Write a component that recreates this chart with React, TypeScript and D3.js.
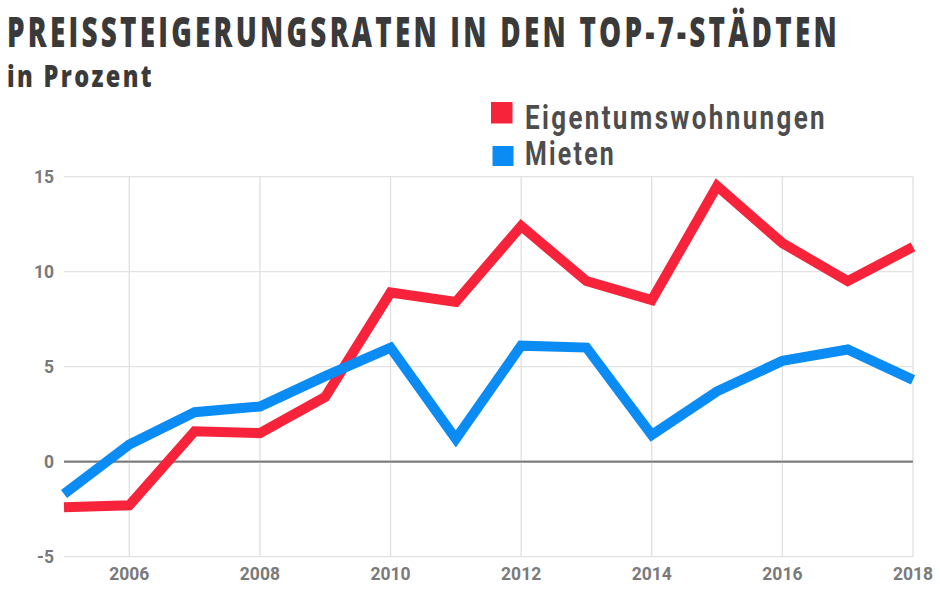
import React from "react";
import * as d3 from "d3";

const years = [2005, 2006, 2007, 2008, 2009, 2010, 2011, 2012, 2013, 2014, 2015, 2016, 2017, 2018];
const eigentum = [-2.4, -2.3, 1.6, 1.5, 3.4, 8.9, 8.4, 12.4, 9.5, 8.5, 14.5, 11.5, 9.5, 11.3];
const mieten = [-1.7, 0.9, 2.6, 2.9, 4.5, 6.0, 1.2, 6.1, 6.0, 1.4, 3.7, 5.3, 5.9, 4.3];
const yTicks = [-5, 0, 5, 10, 15];
const xTicks = [2006, 2008, 2010, 2012, 2014, 2016, 2018];
const seriesNames = ["Eigentumswohnungen", "Mieten"];
const colors = ["#f7233b", "#0b8cf4"];

export default function App() {
  const W = 940, H = 610;
  const x = d3.scaleLinear().domain([2005, 2018]).range([64, 913]);
  const y = d3.scaleLinear().domain([-5, 15]).range([556.6, 176.6]);
  const line = d3
    .line<number>()
    .x((_, i) => x(years[i]))
    .y((d) => y(d));
  const series = [eigentum, mieten];

  return (
    <svg width={W} height={H} style={{ position: "absolute", left: 0, top: 0, background: "#fff" }}>
      <text
        x={7}
        y={47}
        fontFamily="Open Sans"
        fontWeight={800}
        fontSize={43}
        letterSpacing={5}
        fill="#3a3a3a"
        textLength={833}
        lengthAdjust="spacingAndGlyphs"
      >
        PREISSTEIGERUNGSRATEN IN DEN TOP-7-STÄDTEN
      </text>
      <text
        x={7}
        y={87}
        fontFamily="Open Sans"
        fontWeight={800}
        fontSize={30}
        letterSpacing={3}
        fill="#3a3a3a"
        textLength={147}
        lengthAdjust="spacingAndGlyphs"
      >
        in Prozent
      </text>

      {/* legend */}
      <rect x={491} y={102} width={21.5} height={21.5} fill={colors[0]} />
      <text
        x={525}
        y={129.3}
        fontFamily="Roboto"
        fontWeight={700}
        fontSize={33}
        letterSpacing={3}
        fill="#4d4d4d"
        textLength={302}
        lengthAdjust="spacingAndGlyphs"
      >
        {seriesNames[0]}
      </text>
      <rect x={492.5} y={146} width={21} height={20} fill={colors[1]} />
      <text
        x={525}
        y={165}
        fontFamily="Roboto"
        fontWeight={700}
        fontSize={33}
        letterSpacing={3}
        fill="#4d4d4d"
        textLength={91}
        lengthAdjust="spacingAndGlyphs"
      >
        {seriesNames[1]}
      </text>

      {/* grid */}
      {yTicks.map((t) => (
        <g key={"y" + t}>
          <line
            x1={x(2005)}
            x2={x(2018)}
            y1={y(t)}
            y2={y(t)}
            stroke={t === 0 ? "#7a7a7a" : "#e3e3e3"}
            strokeWidth={t === 0 ? 1.6 : 1.3}
          />
          <text
            x={54}
            y={y(t)}
            dy="0.36em"
            textAnchor="end"
            fontFamily="Roboto"
            fontWeight={700}
            fontSize={17.5}
            fill="#7a7a7a"
          >
            {t}
          </text>
        </g>
      ))}
      {xTicks.map((t) => (
        <g key={"x" + t}>
          <line
            x1={x(t)}
            x2={x(t)}
            y1={y(15)}
            y2={y(-5)}
            stroke="#e0e0e0"
            strokeWidth={1.3}
          />
          <text
            x={x(t)}
            y={580}
            textAnchor="middle"
            fontFamily="Roboto"
            fontWeight={700}
            fontSize={17.5}
            fill="#7a7a7a"
          >
            {t}
          </text>
        </g>
      ))}
      {/* redraw zero line on top of verticals */}
      <line x1={x(2005)} x2={x(2018)} y1={y(0)} y2={y(0)} stroke="#7a7a7a" strokeWidth={1.6} />

      {series.map((s, i) => (
        <path
          key={i}
          d={line(s) || ""}
          fill="none"
          stroke={colors[i]}
          strokeWidth={10}
          strokeLinejoin="miter"
          strokeLinecap="butt"
        />
      ))}
    </svg>
  );
}
